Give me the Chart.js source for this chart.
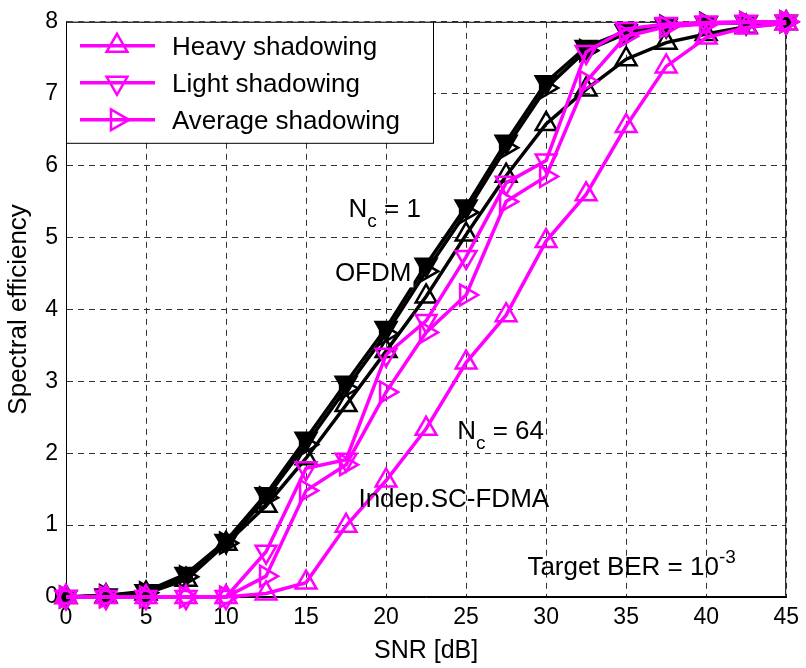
<!DOCTYPE html>
<html>
<head>
<meta charset="utf-8">
<script src="https://cdn.jsdelivr.net/npm/chart.js@4.4.1/dist/chart.umd.min.js"></script>
<style>
  html, body { margin: 0; padding: 0; background: #fff; }
</style>
</head>
<body>
<canvas id="seChart" width="806" height="668"></canvas>
<script>
// SNR grid (dB)
let snrDb = [0, 2.5, 5, 7.5, 10, 12.5, 15, 17.5, 20, 22.5, 25, 27.5, 30, 32.5, 35, 37.5, 40, 42.5, 45];

// OFDM, Nc = 1
let ofdmHeavy   = [0, 0.01, 0.05, 0.24, 0.74, 1.27, 1.93, 2.67, 3.42, 4.18, 5.04, 5.86, 6.58, 7.06, 7.48, 7.71, 7.83, 7.93, 7.98];
let ofdmLight   = [0, 0.02, 0.08, 0.32, 0.78, 1.43, 2.20, 2.98, 3.74, 4.62, 5.43, 6.33, 7.16, 7.65, 7.87, 7.95, 7.98, 7.99, 8.00];
let ofdmAverage = [0, 0.02, 0.06, 0.28, 0.75, 1.38, 2.12, 2.90, 3.66, 4.53, 5.35, 6.25, 7.08, 7.60, 7.84, 7.94, 7.98, 7.99, 8.00];

// Indep. SC-FDMA, Nc = 64
let scHeavy   = [0, 0, 0, 0, 0, 0.05, 0.20, 0.99, 1.62, 2.34, 3.26, 3.92, 4.95, 5.60, 6.55, 7.38, 7.78, 7.92, 7.98];
let scLight   = [0, 0, 0, 0, 0, 0.63, 1.79, 1.91, 3.37, 3.84, 4.73, 5.76, 6.07, 7.58, 7.90, 7.97, 7.99, 8.00, 8.00];
let scAverage = [0, 0, 0, 0, 0, 0.29, 1.48, 1.84, 2.85, 3.68, 4.20, 5.50, 5.85, 7.17, 7.80, 7.93, 7.97, 7.99, 8.00];

let xTicks = [0, 5, 10, 15, 20, 25, 30, 35, 40, 45];
let yTicks = [0, 1, 2, 3, 4, 5, 6, 7, 8];

const FONT = 'Arial, "Liberation Sans", Helvetica, sans-serif';
const MAGENTA = '#ff00ff';

function pts(ys) {
    return ys.map((v, i) => ({x: snrDb[i], y: v}));
}

function series(label, ys, color, rot, inLegend, fill) {
    return {
        label: label,
        data: pts(ys),
        borderColor: color,
        backgroundColor: 'transparent',
        borderWidth: 3.5,
        pointStyle: 'triangle',
        rotation: rot,
        pointRadius: 12,
        pointBorderWidth: 2.5,
        pointBorderColor: color,
        pointBackgroundColor: fill || 'transparent',
        tension: 0,
        clip: false,
        inLegend: inLegend
    };
}

// triangle like chart.js draws it (radius = circumradius)
function triangle(ctx, x, y, r, rotDeg) {
    let rad = rotDeg * Math.PI / 180;
    ctx.beginPath();
    for (let k = 0; k < 3; k++) {
        let px = x + Math.sin(rad) * r, py = y - Math.cos(rad) * r;
        if (k == 0) ctx.moveTo(px, py); else ctx.lineTo(px, py);
        rad += 2 * Math.PI / 3;
    }
    ctx.closePath();
    ctx.stroke();
}

// text made of pieces: [string, sizePx, dy]
function richText(ctx, parts, x, y) {
    let cx = x;
    parts.forEach(p => {
        ctx.font = p[1] + 'px ' + FONT;
        ctx.fillText(p[0], cx, y + p[2]);
        cx += ctx.measureText(p[0]).width;
    });
    return cx - x;
}

const boxPlugin = {
    id: 'axesBox',
    beforeDatasetsDraw(chart) {
        const {ctx, chartArea: a} = chart;
        ctx.save();
        ctx.strokeStyle = '#000';
        ctx.lineWidth = 1;
        ctx.strokeRect(a.left + 0.5, a.top + 0.5, a.right - a.left - 1, a.bottom - a.top - 1);
        ctx.restore();
    }
};

const notesPlugin = {
    id: 'notes',
    afterDatasetsDraw(chart) {
        const {ctx} = chart;
        const sx = chart.scales.x, sy = chart.scales.y;
        ctx.save();
        ctx.fillStyle = '#000';
        ctx.textBaseline = 'alphabetic';
        ctx.textAlign = 'left';

        richText(ctx, [['N', 26, 0], ['c', 19, 10], [' = 1', 26, 0]], sx.getPixelForValue(17.65), sy.getPixelForValue(5.29));

        // OFDM label sits on a white box
        let ox = sx.getPixelForValue(16.8), oy = sy.getPixelForValue(4.39);
        ctx.font = '26px ' + FONT;
        let ow = ctx.measureText('OFDM').width;
        ctx.fillStyle = '#fff';
        ctx.fillRect(ox - 3, oy - 26, ow + 5, 32);
        ctx.fillStyle = '#000';
        richText(ctx, [['OFDM', 26, 0]], ox, oy);

        richText(ctx, [['N', 26, 0], ['c', 19, 10], [' = 64', 26, 0]], sx.getPixelForValue(24.44), sy.getPixelForValue(2.2));
        richText(ctx, [['Indep.SC-FDMA', 26, 0]], sx.getPixelForValue(18.27), sy.getPixelForValue(1.25));
        richText(ctx, [['Target BER = 10', 26, 0], ['-3', 19, -12]], sx.getPixelForValue(28.83), sy.getPixelForValue(0.30));

        // legend in the upper left corner
        const a = chart.chartArea;
        const lx = a.left, ly = a.top, lw = 367, lh = 121;
        ctx.fillStyle = '#fff';
        ctx.fillRect(lx, ly, lw, lh);
        ctx.strokeStyle = '#000';
        ctx.lineWidth = 1;
        ctx.strokeRect(lx + 0.5, ly + 0.5, lw, lh);

        let row = 0;
        chart.data.datasets.forEach(ds => {
            if (!ds.inLegend) return;
            let yy = ly + 24 + row * 37;
            ctx.strokeStyle = ds.borderColor;
            ctx.lineWidth = ds.borderWidth;
            ctx.beginPath();
            ctx.moveTo(lx + 14, yy);
            ctx.lineTo(lx + 89, yy);
            ctx.stroke();
            ctx.lineWidth = ds.pointBorderWidth;
            triangle(ctx, lx + 51, yy, ds.pointRadius, ds.rotation);
            ctx.fillStyle = '#000';
            ctx.font = '26px ' + FONT;
            ctx.fillText(ds.label, lx + 106, yy + 9);
            row++;
        });
        ctx.restore();
    }
};

// first dataset is drawn on top, so the SC-FDMA curves come first
new Chart(document.getElementById('seChart'), {
    type: 'line',
    data: {
        datasets: [
            series('Heavy shadowing', scHeavy, MAGENTA, 0, true),
            series('Light shadowing', scLight, MAGENTA, 180, true),
            series('Average shadowing', scAverage, MAGENTA, 90, true),
            series('OFDM heavy', ofdmHeavy, '#000', 0, false),
            series('OFDM light', ofdmLight, '#000', 180, false, '#000'),
            series('OFDM average', ofdmAverage, '#000', 90, false)
        ]
    },
    options: {
        responsive: false,
        animation: false,
        devicePixelRatio: 1,
        layout: { padding: { top: 16, right: 11, left: 0, bottom: 0 } },
        plugins: { legend: { display: false }, tooltip: { enabled: false } },
        scales: {
            x: {
                type: 'linear',
                min: 0, max: 45,
                afterBuildTicks: s => { s.ticks = xTicks.map(v => ({value: v})); },
                afterFit: s => { s.height = 71; },
                ticks: { color: '#000', font: { family: FONT, size: 23 }, padding: 7, maxRotation: 0 },
                grid: { color: '#333', lineWidth: 1, drawTicks: false },
                border: { color: '#000', width: 1, dash: [6, 5] },
                title: { display: true, text: 'SNR [dB]', color: '#000', font: { family: FONT, size: 25 }, padding: { top: 0, bottom: 2 } }
            },
            y: {
                min: 0, max: 8,
                afterBuildTicks: s => { s.ticks = yTicks.map(v => ({value: v})); },
                afterFit: s => { s.width = 66; },
                ticks: { color: '#000', font: { family: FONT, size: 23 }, padding: 8 },
                grid: { color: '#333', lineWidth: 1, drawTicks: false },
                border: { color: '#000', width: 1, dash: [6, 5] },
                title: { display: true, text: 'Spectral efficiency', color: '#000', font: { family: FONT, size: 26 }, padding: { top: 3, bottom: 0 } }
            }
        }
    },
    plugins: [boxPlugin, notesPlugin]
});
</script>
</body>
</html>
